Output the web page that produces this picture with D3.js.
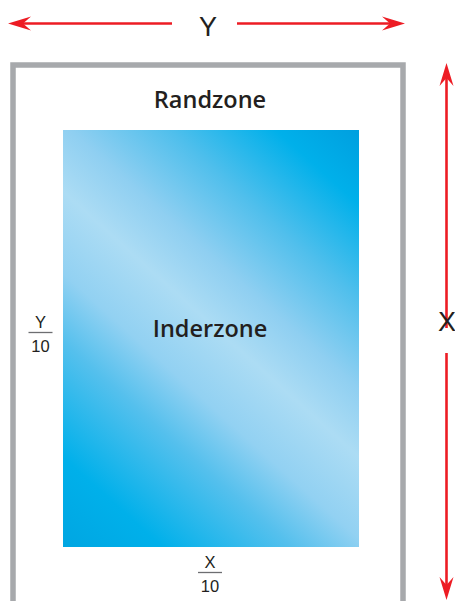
<!DOCTYPE html>
<html>
<head>
<meta charset="utf-8">
<script src="https://cdn.jsdelivr.net/npm/d3@7"></script>
<style>
  body { margin: 0; background: #fff; }
  svg { display: block; }
</style>
</head>
<body>
<script>
// Diagram content
const zoneLabels = ["Randzone", "Inderzone"];
const dimLabels = ["Y", "X"];
const fractionLabels = [["Y", "10"], ["X", "10"]];
// gradient stops across the inner zone (offset, colour)
const gradOffsets = [0, 0.13, 0.3, 0.4, 0.52, 0.62, 0.75, 0.89, 1];
const gradColors = ["#00a6e2", "#00b0ea", "#55c0ed", "#92d1f2", "#acdcf4", "#8fcff1", "#50bfec", "#00b0ea", "#009fdf"];

const width = 455, height = 601;
const red = "#ed1c24", ink = "#231f20", frameGrey = "#a7a9ac";

const svg = d3.select("body").append("svg")
    .attr("width", width)
    .attr("height", height);

// gradient for the inner zone
const grad = svg.append("defs").append("linearGradient")
    .attr("id", "inner")
    .attr("gradientUnits", "userSpaceOnUse")
    .attr("x1", 35).attr("y1", 521)
    .attr("x2", 374).attr("y2", 143);
grad.selectAll("stop")
    .data(gradOffsets)
    .enter()
    .append("stop")
    .attr("offset", d => d)
    .attr("stop-color", (d, i) => gradColors[i]);

// outer frame (runs off the bottom)
svg.append("rect")
    .attr("x", 13).attr("y", 65)
    .attr("width", 390).attr("height", 600)
    .attr("fill", "none")
    .attr("stroke", frameGrey)
    .attr("stroke-width", 5.5);

// inner zone
svg.append("rect")
    .attr("x", 63).attr("y", 130)
    .attr("width", 296).attr("height", 417)
    .attr("fill", "url(#inner)");

// zone labels
svg.selectAll(".zone")
    .data(zoneLabels)
    .enter()
    .append("text")
    .attr("class", "zone")
    .attr("x", 210)
    .attr("y", (d, i) => i === 0 ? 108 : 337)
    .attr("text-anchor", "middle")
    .style("font-family", "'Open Sans', sans-serif")
    .style("font-weight", 600)
    .style("font-size", "23.5px")
    .style("fill", ink)
    .text(d => d);

// arrows
function arrowHead(tx, ty, angle) {
    const L = 23, W = 7, N = 15;
    const pts = [[0, 0], [-L, -W], [-N, 0], [-L, W]];
    const c = Math.cos(angle), s = Math.sin(angle);
    const p = pts.map(([px, py]) => [tx + px * c - py * s, ty + px * s + py * c]);
    svg.append("path")
        .attr("d", "M" + p.join("L") + "Z")
        .attr("fill", red);
}
function arrowLine(x1, y1, x2, y2) {
    svg.append("line")
        .attr("x1", x1).attr("y1", y1)
        .attr("x2", x2).attr("y2", y2)
        .attr("stroke", red)
        .attr("stroke-width", 2.6);
}

// horizontal (Y)
arrowLine(20, 23.5, 172, 23.5);
arrowHead(8, 23.5, Math.PI);
arrowLine(237, 23.5, 393, 23.5);
arrowHead(405, 23.5, 0);

// vertical (X)
arrowLine(446.5, 75, 446.5, 328);
arrowHead(446.5, 63, -Math.PI / 2);
arrowLine(446.5, 353, 446.5, 588);
arrowHead(446.5, 600, Math.PI / 2);

// dimension letters
svg.selectAll(".dim")
    .data(dimLabels)
    .enter()
    .append("text")
    .attr("class", "dim")
    .attr("x", (d, i) => i === 0 ? 208 : 447)
    .attr("y", (d, i) => i === 0 ? 35.5 : 330.5)
    .attr("text-anchor", "middle")
    .style("font-family", "'Liberation Sans', Arial, sans-serif")
    .style("font-size", "27px")
    .style("fill", ink)
    .text(d => d);

// fractions
const fracPos = [[40.5, 332.5], [210, 572.5]];
fractionLabels.forEach(function(f, i) {
    const [cx, cy] = fracPos[i];
    const g = svg.append("g").attr("transform", "translate(" + cx + "," + cy + ")");
    g.append("text")
        .attr("y", -4.3)
        .attr("text-anchor", "middle")
        .style("font-family", "'Liberation Sans', Arial, sans-serif")
        .style("font-size", "16.5px")
        .style("fill", ink)
        .text(f[0]);
    g.append("line")
        .attr("x1", -12).attr("x2", 12)
        .attr("stroke", "#6d6e71")
        .attr("stroke-width", 1.3);
    g.append("text")
        .attr("y", 19.3)
        .attr("text-anchor", "middle")
        .style("font-family", "'Liberation Sans', Arial, sans-serif")
        .style("font-size", "16.5px")
        .style("fill", ink)
        .text(f[1]);
});
</script>
</body>
</html>
